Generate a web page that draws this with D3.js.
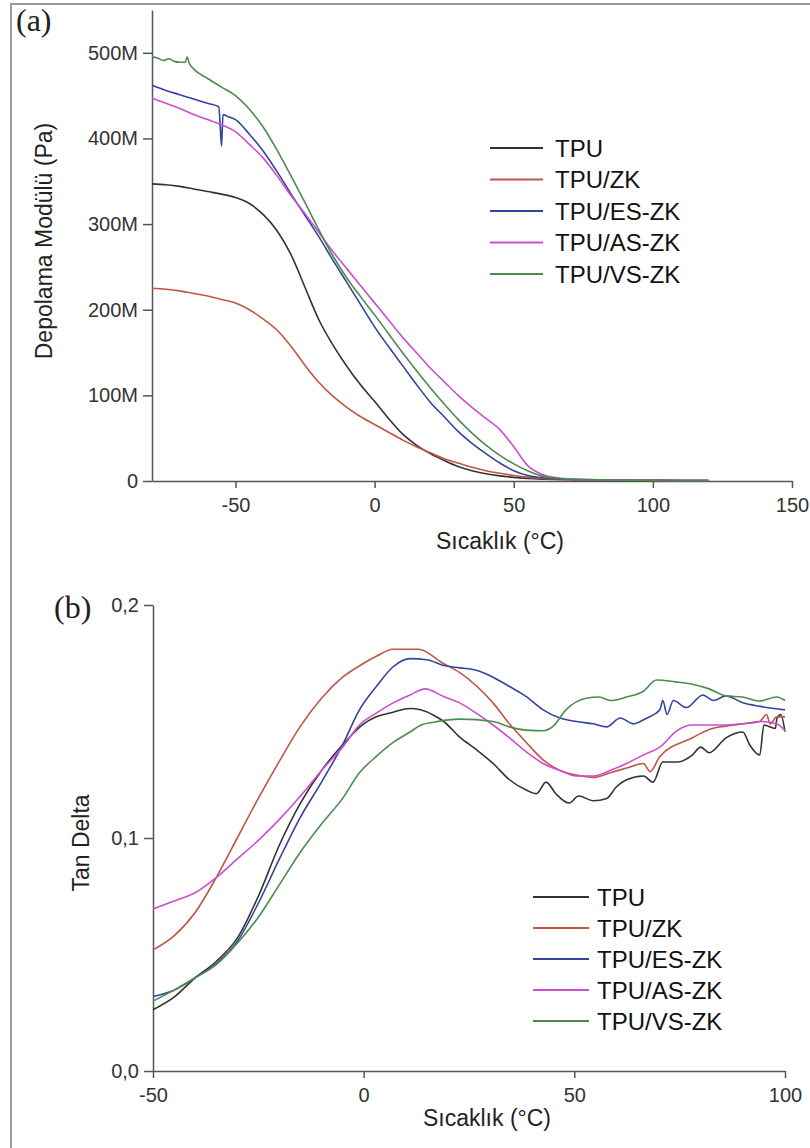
<!DOCTYPE html>
<html>
<head>
<meta charset="utf-8">
<script src="https://cdn.jsdelivr.net/npm/d3@7"></script>
<style>
  body { margin: 0; background: #fff; }
  svg { display: block; font-family: "Liberation Sans", Arial, sans-serif; }
  .axis path, .axis line { stroke: #555; stroke-width: 1.5; }
  .axis text { fill: #333; font-size: 20px; font-family: "Liberation Sans", Arial, sans-serif; }
</style>
</head>
<body>
<script>
// series names + colours
const seriesNames = ["TPU", "TPU/ZK", "TPU/ES-ZK", "TPU/AS-ZK", "TPU/VS-ZK"];
const seriesColors = ["#333333", "#c25545", "#35449a", "#cc4fcf", "#4b8c4e"];

// (a) storage modulus, [temperature °C, modulus in M Pa]
const modTPU = [[-80,347],[-75,346],[-70,344],[-65,341],[-60,338],[-55,335],[-50,331],[-45,324],[-40,311],[-35,292],[-30,264],[-25,226],[-20,188],[-15,159],[-10,134],[-5,112],[0,93],[5,73],[10,55],[15,42],[20,32],[25,24],[30,17],[35,12],[40,8.5],[45,6],[50,4.2],[55,3],[60,2.2],[65,1.7],[70,1.4],[80,1.1],[90,0.9],[100,0.7],[110,0.6],[120,0.5]];
const modZK = [[-80,225],[-75,224],[-70,222],[-65,219],[-60,216],[-55,212],[-50,208],[-45,200],[-40,189],[-35,176],[-30,157],[-25,135],[-20,115],[-15,99],[-10,86],[-5,75],[0,66],[5,57],[10,48],[15,40],[20,33],[25,26],[30,21],[35,16],[40,12],[45,9],[50,6.5],[55,4.5],[60,3],[65,2.2],[70,1.6],[80,1.1],[90,0.9],[100,0.7],[110,0.6],[120,0.5]];
const modES = [[-80,462],[-75,456],[-70,451],[-65,446],[-60,441],[-56,437],[-55.5,415],[-55,391],[-54.5,428],[-53,426],[-50,422],[-45,405],[-40,385],[-35,361],[-30,335],[-25,310],[-20,285],[-15,258],[-10,232],[-5,206],[0,180],[5,157],[10,135],[15,113],[20,92],[25,75],[30,58],[35,44],[40,32],[45,21],[50,12],[55,6.5],[60,4],[65,2.8],[70,2],[80,1.3],[90,1],[100,0.8],[110,0.6],[120,0.5]];
const modAS = [[-80,447],[-75,441],[-70,435],[-65,428],[-60,422],[-55,416],[-50,408],[-45,393],[-40,377],[-35,356],[-30,333],[-25,312],[-20,290],[-15,268],[-10,248],[-5,228],[0,208],[5,188],[10,168],[15,150],[20,132],[25,116],[30,100],[35,86],[40,73],[45,60],[50,40],[55,18],[60,8],[65,4],[70,2.5],[80,1.5],[90,1.1],[100,0.8],[110,0.6],[120,0.5]];
const modVS = [[-80,495],[-78,494],[-76,491],[-74,493],[-72,490],[-70,489],[-68,489],[-67.4,495],[-66.5,487],[-65,481],[-60,470],[-55,460],[-50,450],[-45,434],[-40,413],[-35,386],[-30,356],[-25,325],[-20,293],[-15,263],[-10,237],[-5,215],[0,194],[5,172],[10,150],[15,129],[20,109],[25,90],[30,72],[35,56],[40,42],[45,30],[50,20],[55,12],[60,6],[65,3.5],[70,2.2],[80,1.4],[90,1],[100,0.8],[110,0.6],[120,0.5]];

// (b) tan delta, [temperature °C, tan delta]
const tanTPU = [[-50,0.0263],[-45,0.0317],[-40,0.040],[-35,0.047],[-30,0.057],[-25,0.075],[-20,0.097],[-15,0.115],[-10,0.129],[-5,0.140],[0,0.149],[3,0.152],[7,0.154],[11,0.1556],[13.5,0.155],[16.6,0.1527],[19,0.150],[22.8,0.1433],[26.7,0.138],[30.7,0.132],[34.6,0.125],[38.6,0.1206],[41,0.119],[43.3,0.124],[45.6,0.119],[48.8,0.115],[51,0.118],[54.5,0.116],[57.7,0.117],[60,0.122],[62.4,0.125],[66.4,0.1266],[68.7,0.124],[71,0.1326],[74.3,0.1326],[78,0.1356],[80,0.139],[82,0.1366],[86,0.143],[90,0.1455],[91.6,0.140],[94,0.1356],[95,0.1485],[97.7,0.147],[98.1,0.1514],[99,0.153],[100,0.1457]];
const tanZK = [[-50,0.052],[-45,0.058],[-40,0.068],[-35,0.083],[-30,0.100],[-25,0.117],[-20,0.133],[-15,0.148],[-10,0.160],[-5,0.169],[0,0.175],[3,0.178],[7,0.181],[13,0.181],[18.8,0.175],[22.8,0.171],[30.7,0.158],[34.6,0.149],[38.6,0.141],[42.6,0.1335],[46.6,0.129],[50.5,0.127],[54.5,0.126],[58.5,0.128],[62.4,0.130],[66.4,0.132],[68,0.1285],[70.3,0.135],[78,0.143],[82,0.1466],[86,0.148],[90,0.149],[94,0.150],[95.6,0.153],[96.5,0.149],[98,0.152],[100,0.152]];
const tanES = [[-50,0.032],[-45,0.0347],[-40,0.040],[-35,0.046],[-30,0.0556],[-25,0.072],[-20,0.091],[-15,0.109],[-10,0.124],[-5,0.140],[-1,0.155],[3,0.165],[7,0.1735],[11,0.177],[15,0.1765],[19,0.174],[22.8,0.173],[26.7,0.172],[30.7,0.169],[34.6,0.165],[38.6,0.1607],[42.6,0.155],[46.6,0.1515],[50.5,0.150],[54.5,0.149],[57.7,0.1477],[60.9,0.1515],[64,0.149],[67.2,0.1515],[70.3,0.155],[71,0.159],[72,0.153],[73.5,0.159],[76.6,0.156],[80.5,0.1614],[83,0.159],[86,0.161],[90,0.158],[94,0.1565],[100,0.155]];
const tanAS = [[-50,0.0695],[-45,0.073],[-40,0.0765],[-35,0.083],[-30,0.091],[-25,0.099],[-20,0.108],[-15,0.118],[-10,0.129],[-5,0.139],[-1,0.1485],[3,0.1536],[7,0.158],[11,0.1614],[14.6,0.164],[19,0.1607],[22.8,0.158],[26.7,0.1536],[30.7,0.1485],[34.6,0.143],[38.6,0.137],[42.6,0.132],[46.6,0.129],[50.5,0.1266],[54.5,0.1266],[58.5,0.129],[62.4,0.132],[66.4,0.1356],[70.3,0.139],[74.3,0.146],[78,0.1485],[82,0.1485],[86,0.1485],[90,0.149],[94,0.150],[98,0.149],[100,0.146]];
const tanVS = [[-50,0.030],[-45,0.0347],[-40,0.040],[-35,0.0456],[-30,0.0548],[-25,0.066],[-20,0.080],[-15,0.094],[-10,0.106],[-5,0.117],[-1,0.128],[3,0.135],[7,0.141],[11,0.1455],[13.5,0.1484],[16.6,0.1497],[22.8,0.151],[30.7,0.150],[34.6,0.1477],[38.6,0.1463],[42.6,0.146],[45,0.148],[48,0.155],[52.8,0.160],[56,0.1605],[58.5,0.159],[62.4,0.1605],[66.4,0.163],[69.5,0.1678],[74,0.167],[78,0.166],[82,0.164],[86,0.161],[90,0.1605],[94,0.1588],[98,0.1605],[100,0.159]];

// tick values
const xTicksA = [-50, 0, 50, 100, 150];
const yTicksA = [0, 100, 200, 300, 400, 500];
const xTicksB = [-50, 0, 50, 100];
const yTicksB = [0, 0.1, 0.2];

const modulus = [modTPU, modZK, modES, modAS, modVS];
const tanDelta = [tanTPU, tanZK, tanES, tanAS, tanVS];

const width = 810, height = 1148;

const svg = d3.select("body").append("svg")
    .attr("width", width)
    .attr("height", height);

// grey frame round the figure
svg.append("rect")
    .attr("x", 11).attr("y", 4)
    .attr("width", width + 20).attr("height", height + 20)
    .attr("fill", "none")
    .attr("stroke", "#9a9a9a")
    .attr("stroke-width", 2);

// plain hyphen for negative ticks, like the original
const fmtX = d => String(d);

// ---------- panel (a) ----------
let xA = d3.scaleLinear().domain([-80, 150]).range([152, 792]);
let yA = d3.scaleLinear().domain([0, 550]).range([481, 10]);

svg.append("g")
    .attr("class", "axis")
    .attr("transform", `translate(0,${yA(0)})`)
    .call(d3.axisBottom(xA).tickValues(xTicksA).tickFormat(fmtX).tickSize(7).tickPadding(10).tickSizeOuter(0));

svg.append("g")
    .attr("class", "axis")
    .attr("transform", `translate(${xA(-80)},0)`)
    .call(d3.axisLeft(yA).tickValues(yTicksA).tickSize(9).tickPadding(5).tickSizeOuter(0)
        .tickFormat(d => d === 0 ? "0" : d + "M"));

let lineA = d3.line()
    .curve(d3.curveMonotoneX)
    .x(d => xA(d[0]))
    .y(d => yA(d[1]));

svg.append("g")
    .selectAll("path")
    .data(modulus)
    .join("path")
    .attr("fill", "none")
    .attr("stroke", (d, i) => seriesColors[i])
    .attr("stroke-width", 1.6)
    .attr("stroke-linejoin", "round")
    .attr("d", lineA);

svg.append("text")
    .attr("x", 16).attr("y", 31)
    .style("font-family", "'Liberation Serif', 'Times New Roman', serif")
    .style("font-size", "32px")
    .attr("fill", "#222")
    .text("(a)");

svg.append("text")
    .attr("transform", "translate(52,241) rotate(-90)")
    .attr("text-anchor", "middle")
    .style("font-size", "23px")
    .attr("fill", "#222")
    .text("Depolama Modülü (Pa)");

svg.append("text")
    .attr("x", 500).attr("y", 549)
    .attr("text-anchor", "middle")
    .style("font-size", "23px")
    .attr("fill", "#222")
    .text("Sıcaklık (°C)");

// legend (a)
let legA = svg.append("g").attr("transform", "translate(490,148)");
seriesNames.forEach((name, i) => {
    legA.append("line")
        .attr("x1", 0).attr("x2", 53)
        .attr("y1", i * 31.5).attr("y2", i * 31.5)
        .attr("stroke", seriesColors[i])
        .attr("stroke-width", 2);
    legA.append("text")
        .attr("x", 65).attr("y", i * 31.5)
        .attr("dy", "0.36em")
        .style("font-size", "24px")
        .attr("fill", "#111")
        .text(name);
});

// ---------- panel (b) ----------
let xB = d3.scaleLinear().domain([-50, 100]).range([153, 785]);
let yB = d3.scaleLinear().domain([0, 0.2]).range([1071, 605]);

svg.append("g")
    .attr("class", "axis")
    .attr("transform", `translate(0,${yB(0)})`)
    .call(d3.axisBottom(xB).tickValues(xTicksB).tickFormat(fmtX).tickSize(7).tickPadding(10).tickSizeOuter(0));

svg.append("g")
    .attr("class", "axis")
    .attr("transform", `translate(${xB(-50)},0)`)
    .call(d3.axisLeft(yB).tickValues(yTicksB).tickSize(9).tickPadding(5).tickSizeOuter(0)
        .tickFormat(d => d3.format(".1f")(d).replace(".", ",")));

let lineB = d3.line()
    .curve(d3.curveMonotoneX)
    .x(d => xB(d[0]))
    .y(d => yB(d[1]));

svg.append("g")
    .selectAll("path")
    .data(tanDelta)
    .join("path")
    .attr("fill", "none")
    .attr("stroke", (d, i) => seriesColors[i])
    .attr("stroke-width", 1.6)
    .attr("stroke-linejoin", "round")
    .attr("d", lineB);

svg.append("text")
    .attr("x", 54).attr("y", 618)
    .style("font-family", "'Liberation Serif', 'Times New Roman', serif")
    .style("font-size", "32px")
    .attr("fill", "#222")
    .text("(b)");

svg.append("text")
    .attr("transform", "translate(89,843) rotate(-90)")
    .attr("text-anchor", "middle")
    .style("font-size", "23px")
    .attr("fill", "#222")
    .text("Tan Delta");

svg.append("text")
    .attr("x", 487).attr("y", 1126)
    .attr("text-anchor", "middle")
    .style("font-size", "23px")
    .attr("fill", "#222")
    .text("Sıcaklık (°C)");

// legend (b)
let legB = svg.append("g").attr("transform", "translate(533,897)");
seriesNames.forEach((name, i) => {
    legB.append("line")
        .attr("x1", 0).attr("x2", 56)
        .attr("y1", i * 31).attr("y2", i * 31)
        .attr("stroke", seriesColors[i])
        .attr("stroke-width", 2);
    legB.append("text")
        .attr("x", 64).attr("y", i * 31)
        .attr("dy", "0.36em")
        .style("font-size", "24px")
        .attr("fill", "#111")
        .text(name);
});
</script>
</body>
</html>
